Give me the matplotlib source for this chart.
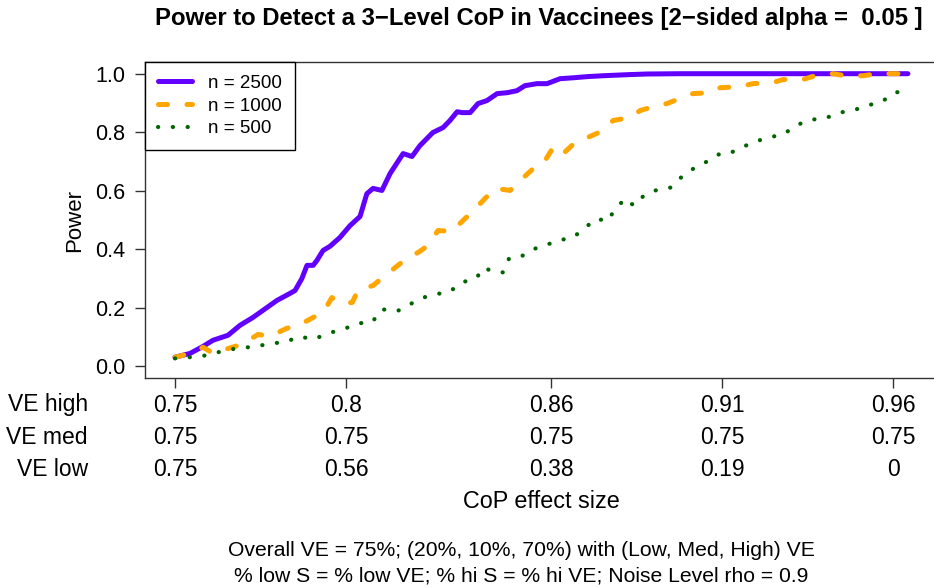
import numpy as np
import matplotlib
matplotlib.use('Agg')
import matplotlib.pyplot as plt
from matplotlib.transforms import blended_transform_factory

plt.rcParams['font.family'] = ['Liberation Sans', 'DejaVu Sans']

# VE high (x) and power
x_2500 = [0.7500, 0.7544, 0.7582, 0.7611, 0.7655, 0.7690, 0.7728, 0.7769, 0.7798, 0.7836,
          0.7851, 0.7871, 0.7886, 0.7904, 0.7915, 0.7933, 0.7953, 0.7982, 0.8012, 0.8041,
          0.8061, 0.8079, 0.8105, 0.8129, 0.8167, 0.8193, 0.8216, 0.8254, 0.8284, 0.8304,
          0.8325, 0.8339, 0.8363, 0.8386, 0.8412, 0.8442, 0.8471, 0.8500, 0.8523, 0.8558,
          0.8588, 0.8626, 0.8664, 0.8705, 0.8751, 0.8830, 0.8880, 0.8977, 0.9643]
p_2500 = [0.031, 0.044, 0.068, 0.089, 0.106, 0.140, 0.167, 0.201, 0.225, 0.249,
          0.259, 0.300, 0.345, 0.345, 0.362, 0.396, 0.410, 0.440, 0.481, 0.512,
          0.590, 0.608, 0.601, 0.659, 0.727, 0.717, 0.754, 0.799, 0.816, 0.840,
          0.870, 0.867, 0.867, 0.898, 0.908, 0.932, 0.935, 0.942, 0.959, 0.966,
          0.966, 0.983, 0.986, 0.990, 0.993, 0.997, 0.999, 1.000, 1.000]

x_1000 = [0.7500, 0.7544, 0.7582, 0.7602, 0.7611, 0.7667, 0.7696, 0.7743, 0.7778, 0.7827,
          0.7857, 0.7904, 0.7933, 0.7959, 0.7982, 0.8018, 0.8035, 0.8079, 0.8108, 0.8152,
          0.8178, 0.8211, 0.8240, 0.8269, 0.8310, 0.8348, 0.8371, 0.8406, 0.8436, 0.8480,
          0.8503, 0.8544, 0.8573, 0.8602, 0.8626, 0.8670, 0.8699, 0.8751, 0.8781, 0.8830,
          0.8860, 0.8909, 0.8939, 0.8982, 0.9015, 0.9064, 0.9094, 0.9152, 0.9190, 0.9246,
          0.9278, 0.9336, 0.9371, 0.9424, 0.9459, 0.9512, 0.9553, 0.9611, 0.9643]
p_1000 = [0.031, 0.044, 0.065, 0.051, 0.044, 0.065, 0.075, 0.109, 0.102, 0.130,
          0.137, 0.167, 0.184, 0.235, 0.215, 0.218, 0.259, 0.276, 0.304, 0.345,
          0.369, 0.389, 0.413, 0.464, 0.461, 0.505, 0.529, 0.573, 0.608, 0.601,
          0.628, 0.672, 0.686, 0.741, 0.717, 0.765, 0.778, 0.805, 0.840, 0.850,
          0.874, 0.891, 0.898, 0.918, 0.932, 0.935, 0.952, 0.956, 0.966, 0.969,
          0.980, 0.980, 0.993, 1.000, 0.993, 0.993, 1.000, 1.000, 1.000]

x_500 = [0.7500, 0.7520, 0.7567, 0.7611, 0.7652, 0.7696, 0.7731, 0.7775, 0.7822, 0.7863,
         0.7906, 0.7947, 0.7991, 0.8035, 0.8076, 0.8105, 0.8149, 0.8181, 0.8219, 0.8257,
         0.8301, 0.8339, 0.8380, 0.8404, 0.8427, 0.8459, 0.8477, 0.8512, 0.8544, 0.8582,
         0.8620, 0.8664, 0.8699, 0.8734, 0.8763, 0.8787, 0.8816, 0.8842, 0.8874, 0.8912,
         0.8950, 0.8982, 0.9020, 0.9061, 0.9094, 0.9120, 0.9155, 0.9190, 0.9234, 0.9278,
         0.9316, 0.9357, 0.9398, 0.9442, 0.9482, 0.9523, 0.9567, 0.9602, 0.9643]
p_500 = [0.027, 0.031, 0.031, 0.044, 0.055, 0.065, 0.065, 0.078, 0.082, 0.102,
         0.092, 0.113, 0.126, 0.147, 0.150, 0.195, 0.188, 0.208, 0.232, 0.246,
         0.253, 0.287, 0.300, 0.338, 0.324, 0.321, 0.369, 0.375, 0.399, 0.413,
         0.430, 0.440, 0.474, 0.505, 0.495, 0.536, 0.573, 0.549, 0.587, 0.604,
         0.611, 0.648, 0.679, 0.703, 0.727, 0.727, 0.747, 0.765, 0.782, 0.792,
         0.823, 0.843, 0.846, 0.867, 0.874, 0.891, 0.904, 0.935, 0.942]

tick_pos = [0.75, 0.80, 0.86, 0.91, 0.96]
ve_high = ['0.75', '0.8', '0.86', '0.91', '0.96']
ve_med = ['0.75', '0.75', '0.75', '0.75', '0.75']
ve_low = ['0.75', '0.56', '0.38', '0.19', '0']
row_names = ['VE high', 'VE med', 'VE low']

fig = plt.figure(figsize=(9.34, 5.87), dpi=100)
ax = fig.add_axes([145/934, 1 - 378/587, 792/934, 316/587])

ax.plot(x_2500, p_2500, color='#6200ff', lw=3.6, solid_capstyle='round',
        solid_joinstyle='round', label='n = 2500')
ax.plot(x_1000, p_1000, color='#ffa500', lw=3.6, dashes=(1.8, 3.9),
        dash_capstyle='round', label='n = 1000')
ax.plot(x_500, p_500, color='#006400', lw=3.0, dashes=(0.05, 3.5),
        dash_capstyle='round', label='n = 500')

ax.set_xlim(0.74123, 0.97281)
ax.set_ylim(-0.04, 1.04)
ax.set_yticks([0, 0.2, 0.4, 0.6, 0.8, 1.0])
ax.set_yticklabels(['0.0', '0.2', '0.4', '0.6', '0.8', '1.0'])
ax.set_xticks(tick_pos)
ax.set_xticklabels([])
ax.tick_params(axis='both', direction='out', length=7, width=1, color='#333333',
               labelsize=15.5, pad=7)
for s in ax.spines.values():
    s.set_color('#333333')
    s.set_linewidth(1)

ax.set_ylabel('Power', fontsize=16, labelpad=7)

leg = ax.legend(loc='upper left', bbox_to_anchor=(0, 1), borderaxespad=0,
                fancybox=False, framealpha=1, edgecolor='black', fontsize=13.5,
                handlelength=1.85, handletextpad=0.85, borderpad=0.68, labelspacing=0.3)
leg.get_frame().set_linewidth(1)

tr = blended_transform_factory(ax.transData, fig.transFigure)
rows_y = [1 - 405/587, 1 - 437/587, 1 - 470/587]
for labels, yy, name in zip([ve_high, ve_med, ve_low], rows_y, row_names):
    for xp, lab in zip(tick_pos, labels):
        ax.text(xp, yy, lab, transform=tr, ha='center', va='center', fontsize=16.5)
    fig.text(88/934, yy, name, ha='right', va='center', fontsize=16.5)

fig.text(541/934, 1 - 502/587, 'CoP effect size', ha='center', va='center', fontsize=16.8)
fig.text(539/934, 1 - 18/587,
         'Power to Detect a 3\u2212Level CoP in Vaccinees [2\u2212sided alpha =  0.05 ]',
         ha='center', va='center', fontsize=17.2, fontweight='bold')
fig.text(521/934, 1 - 550/587,
         'Overall VE = 75%; (20%, 10%, 70%) with (Low, Med, High) VE',
         ha='center', va='center', fontsize=15.2)
fig.text(521/934, 1 - 576/587,
         '% low S = % low VE; % hi S = % hi VE; Noise Level rho = 0.9',
         ha='center', va='center', fontsize=15.2)

fig.savefig('out.png', dpi=100)
